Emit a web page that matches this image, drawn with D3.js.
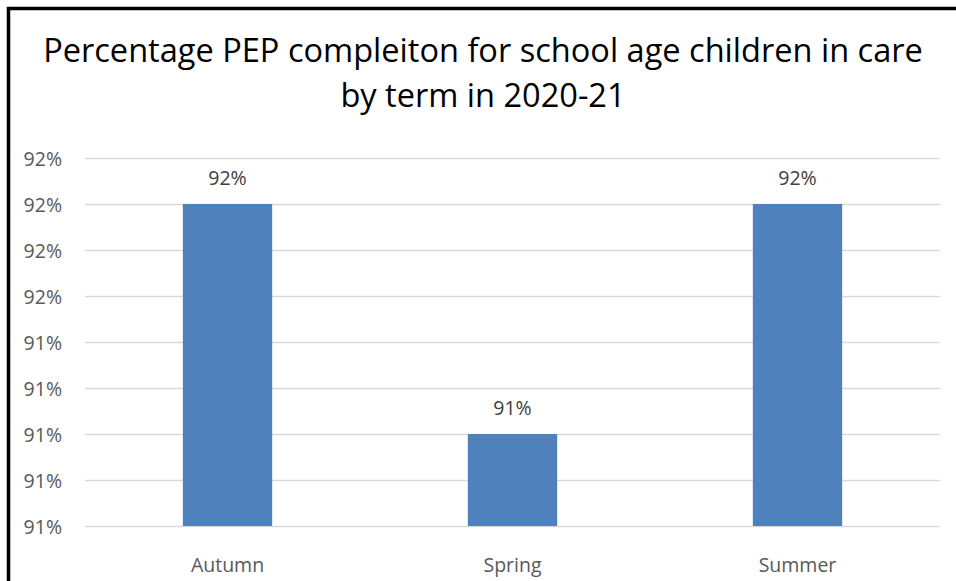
<!DOCTYPE html>
<html><head><meta charset="utf-8">
<script src="https://cdn.jsdelivr.net/npm/d3@7"></script>
<style>body{margin:0;background:#fff;}svg{display:block;}</style>
</head><body>
<svg id="c" width="956" height="581"></svg>
<script>
const categories = ["Autumn", "Spring", "Summer"];
const values = [92.0, 91.0, 92.0];
const valueLabels = ["92%", "91%", "92%"];
const yTicks = [90.6, 90.8, 91.0, 91.2, 91.4, 91.6, 91.8, 92.0, 92.2];
const titleLines = ["Percentage PEP compleiton for school age children in care", "by term in 2020-21"];

(function () {
const svg = d3.select("#c");
const font = "'Open Sans', sans-serif";
const pLeft = 85, pRight = 940, pTop = 158, pBottom = 526;
const lblSize = 19.5;

svg.append("rect").attr("x", 8.5).attr("y", 8.5).attr("width", 1000).attr("height", 1000)
  .attr("fill", "#fff").attr("stroke", "#000").attr("stroke-width", 3.5);

const x = d3.scaleBand().domain(categories).range([pLeft, pRight]);
const y = d3.scaleLinear().domain([90.6, 92.2]).range([pBottom, pTop]);

svg.append("g").selectAll("line").data(yTicks).join("line")
  .attr("x1", pLeft).attr("x2", pRight)
  .attr("y1", d => Math.round(y(d)) + 0.5).attr("y2", d => Math.round(y(d)) + 0.5)
  .attr("stroke", "#d9d9d9").attr("stroke-width", 1.6);

const yAxis = d3.axisLeft(y).tickValues(yTicks).tickFormat(d => d3.format(".0f")(d) + "%").tickSize(0).tickPadding(0);
const ya = svg.append("g").attr("transform", "translate(62,1)").call(yAxis);
ya.select(".domain").remove();
ya.selectAll("text").attr("font-family", font).attr("font-size", lblSize).attr("fill", "#595959").attr("dy", "0.35em");

const bw = x.bandwidth() / 3.19;
svg.append("g").selectAll("rect").data(values).join("rect")
  .attr("x", (d, i) => x(categories[i]) + x.bandwidth() / 2 - bw / 2)
  .attr("width", bw)
  .attr("y", d => y(d))
  .attr("height", d => y(90.6) - y(d))
  .attr("fill", "#4f81bd");

svg.append("g").selectAll("text").data(values).join("text")
  .attr("x", (d, i) => x(categories[i]) + x.bandwidth() / 2)
  .attr("y", d => y(d) - 19)
  .attr("text-anchor", "middle").attr("font-family", font).attr("font-size", lblSize).attr("fill", "#404040")
  .text((d, i) => valueLabels[i]);

const xAxis = d3.axisBottom(x).tickSize(0).tickPadding(0);
const xa = svg.append("g").attr("transform", "translate(0,565)").call(xAxis);
xa.select(".domain").remove();
xa.selectAll("text").attr("font-family", font).attr("font-size", lblSize).attr("fill", "#595959").attr("dy", "0.35em");

const t = svg.append("g");
const t1 = t.append("text").attr("x", 483).attr("y", 62).attr("text-anchor", "middle")
  .attr("font-family", font).attr("font-size", 30).attr("fill", "#000").text(titleLines[0]);
const w = t1.node().getComputedTextLength();
const fs = 30 * 880 / w;
t1.attr("font-size", fs);
t.append("text").attr("x", 483).attr("y", 107).attr("text-anchor", "middle")
  .attr("font-family", font).attr("font-size", fs).attr("fill", "#000").text(titleLines[1]);
})();
</script>
</body></html>
